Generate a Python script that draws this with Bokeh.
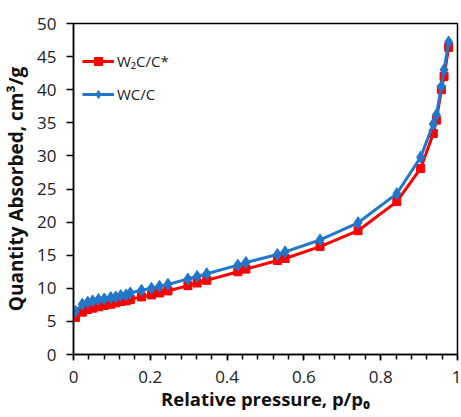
from bokeh.plotting import figure
from bokeh.models import Legend, LegendItem, FixedTicker, Range1d
from bokeh.embed import file_html
from bokeh.resources import INLINE

# Data
p_rel = [0.005, 0.023, 0.037, 0.05, 0.065, 0.08, 0.097, 0.11, 0.123, 0.137, 0.148,
         0.177, 0.203, 0.224, 0.246, 0.298, 0.322, 0.347, 0.428, 0.449, 0.531, 0.551,
         0.642, 0.741, 0.842, 0.904, 0.937, 0.945, 0.958, 0.965, 0.977]
wc_c = [6.5, 7.6, 7.9, 8.1, 8.3, 8.4, 8.6, 8.7, 8.9, 9.0, 9.3,
        9.7, 10.0, 10.3, 10.6, 11.4, 11.8, 12.2, 13.5, 13.9, 15.1, 15.5,
        17.3, 19.9, 24.3, 29.8, 34.8, 36.2, 40.5, 43.0, 47.2]
w2c_c = [5.6, 6.4, 6.8, 7.0, 7.2, 7.4, 7.6, 7.8, 8.0, 8.1, 8.3,
         8.7, 9.0, 9.3, 9.6, 10.4, 10.8, 11.2, 12.5, 12.9, 14.2, 14.5,
         16.3, 18.7, 23.1, 28.1, 33.4, 35.4, 40.0, 42.0, 46.4]
x_ticks = [0, 0.2, 0.4, 0.6, 0.8, 1]
y_ticks = [0, 5, 10, 15, 20, 25, 30, 35, 40, 45, 50]

RED = "#FF0000"
BLUE = "#2277CA"
FONT = "Open Sans"

p = figure(width=461, height=417, output_backend="svg", toolbar_location=None,
           x_range=Range1d(0, 1), y_range=Range1d(0, 50),
           min_border_left=72, min_border_right=4, min_border_top=23, min_border_bottom=63)
p.xgrid.visible = False
p.ygrid.visible = False
p.outline_line_color = "#000000"
p.outline_line_width = 1.5

r_line = p.line(p_rel, w2c_c, line_color=RED, line_width=3)
r_mark = p.scatter(p_rel, w2c_c, marker="square", size=8, fill_color=RED, line_color=RED)
b_line = p.line(p_rel, wc_c, line_color=BLUE, line_width=3)
b_mark = p.scatter(p_rel, wc_c, marker="diamond", size=12, fill_color=BLUE, line_color=BLUE)

for ax in (p.xaxis[0], p.yaxis[0]):
    ax.axis_line_color = "#000000"
    ax.axis_line_width = 1.5
    ax.major_tick_line_color = "#000000"
    ax.major_tick_line_width = 1.5
    ax.major_tick_in = 0
    ax.major_label_text_font = FONT
    ax.major_label_text_font_size = "17px"
    ax.major_label_text_color = "#222222"
    ax.axis_label_text_font = FONT
    ax.axis_label_text_font_style = "bold"
    ax.axis_label_text_color = "#111111"

p.xaxis[0].ticker = FixedTicker(ticks=x_ticks,
                                minor_ticks=[i * 0.04 for i in range(26)])
p.xaxis[0].major_tick_out = 6
p.xaxis[0].minor_tick_line_color = "#000000"
p.xaxis[0].minor_tick_line_width = 1.5
p.xaxis[0].minor_tick_in = 0
p.xaxis[0].minor_tick_out = 5
p.xaxis[0].major_label_overrides = {0: "0", 1: "1"}
p.xaxis[0].axis_label = "Relative pressure, p/p\u2080"
p.xaxis[0].axis_label_text_font_size = "18.5px"
p.xaxis[0].major_label_standoff = 10
p.xaxis[0].axis_label_standoff = 0

p.yaxis[0].ticker = FixedTicker(ticks=y_ticks)
p.yaxis[0].major_tick_out = 7
p.yaxis[0].minor_tick_line_color = None
p.yaxis[0].axis_label = "Quantity Absorbed, cm\u00b3/g"
p.yaxis[0].axis_label_text_font_size = "19px"
p.yaxis[0].major_label_standoff = 10
p.yaxis[0].axis_label_standoff = 5

legend = Legend(items=[
    LegendItem(label="W\u2082C/C*", renderers=[r_line, r_mark]),
    LegendItem(label="WC/C", renderers=[b_line, b_mark]),
], location=(9, 250))
legend.border_line_color = None
legend.background_fill_alpha = 0
legend.padding = 5
legend.margin = 0
legend.spacing = 13
legend.glyph_width = 32
legend.glyph_height = 20
legend.label_height = 20
legend.label_standoff = 3
legend.label_text_font = FONT
legend.label_text_font_size = "15px"
legend.label_text_color = "#222222"
p.add_layout(legend)

open("out.html", "w").write(file_html(p, INLINE))
